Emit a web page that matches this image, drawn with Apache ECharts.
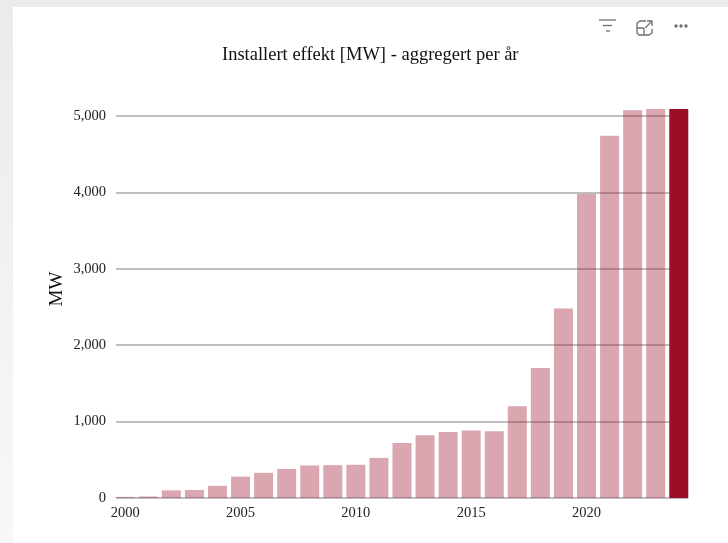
<!DOCTYPE html>
<html>
<head>
<meta charset="utf-8">
<title>Installert effekt</title>
<script src="https://cdn.jsdelivr.net/npm/echarts@6/dist/echarts.min.js"></script>
<style>
  html, body { margin: 0; padding: 0; height: 100%; background: linear-gradient(#ebebeb, #f8f8f8); }
  #card { position: absolute; left: 13px; top: 7px; width: 715px; height: 536px; background: #fff; }
  #chart { position: absolute; left: 0; top: 0; width: 728px; height: 543px; }
</style>
</head>
<body>
<div id="card"></div>
<div id="chart"></div>
<script>
const years = [2000, 2001, 2002, 2003, 2004, 2005, 2006, 2007, 2008, 2009, 2010, 2011, 2012,
  2013, 2014, 2015, 2016, 2017, 2018, 2019, 2020, 2021, 2022, 2023, 2024]
const effekt = [15, 20, 100, 105, 160, 280, 330, 380, 425, 430, 435, 525, 720,
  820, 865, 885, 875, 1200, 1700, 2480, 3980, 4740, 5075, 5090, 5090]
const yearTicks = [2000, 2005, 2010, 2015, 2020]
const titleText = 'Installert effekt [MW] - aggregert per år'
const yAxisName = 'MW'
const highlightYear = 2024

const serif = '"Liberation Serif", serif'
const chart = echarts.init(document.getElementById('chart'), null, { renderer: 'canvas' })

const iconStroke = { stroke: '#6f6f6f', lineWidth: 1.3, fill: 'none' }
function line(x1, y1, x2, y2) {
  return { type: 'line', shape: { x1, y1, x2, y2 }, style: iconStroke, silent: true }
}
function dot(cx) {
  return { type: 'circle', shape: { cx, cy: 26, r: 1.7 }, style: { fill: '#6f6f6f' }, silent: true }
}

chart.setOption({
  backgroundColor: 'transparent',
  animation: false,
  title: {
    text: titleText,
    left: 217,
    top: 41,
    textStyle: { fontFamily: serif, fontSize: 18.5, fontWeight: 'normal', color: '#111' }
  },
  grid: { left: 116, right: 40, top: 116, bottom: 45 },
  xAxis: {
    type: 'value',
    min: 1999.6,
    max: 2024.4,
    axisLine: { show: false },
    axisTick: { show: false },
    splitLine: { show: false },
    axisLabel: {
      customValues: yearTicks,
      formatter: v => String(v),
      color: '#222',
      fontFamily: serif,
      fontSize: 14.5,
      margin: 8
    }
  },
  yAxis: {
    type: 'value',
    min: 0,
    max: 5000,
    interval: 1000,
    name: yAxisName,
    nameLocation: 'middle',
    nameRotate: 90,
    nameGap: 49,
    nameMoveOverlap: false,
    nameTextStyle: { fontFamily: serif, fontSize: 19, color: '#111', padding: [0, 0, 0, 36] },
    axisLine: { show: false },
    axisTick: { show: false },
    axisLabel: {
      formatter: v => v.toLocaleString('en-US'),
      color: '#222',
      fontFamily: serif,
      fontSize: 14.5,
      margin: 10
    },
    splitLine: { lineStyle: { color: '#aaaaaa', width: 1.5 } }
  },
  series: [{
    type: 'bar',
    barWidth: 19,
    clip: false,
    data: years.map((y, i) => ({
      value: [y, effekt[i]],
      itemStyle: y === highlightYear
        ? { color: '#9b0e27' }
        : { color: 'rgba(155,14,39,0.37)' }
    }))
  }],
  graphic: [
    // filter, expand and more icons from the page toolbar
    line(599, 20, 616, 20),
    line(603, 25.5, 612, 25.5),
    line(606, 31, 610, 31),
    { type: 'polyline', shape: { points: [[646, 21], [640, 21], [637, 23], [637, 33], [639, 35], [649, 35], [652, 33], [652, 29]] }, style: iconStroke, silent: true },
    { type: 'polyline', shape: { points: [[637, 28], [643, 28], [644, 29], [644, 35]] }, style: iconStroke, silent: true },
    line(645, 28, 652, 21),
    { type: 'polyline', shape: { points: [[647, 21], [652, 21], [652, 26]] }, style: iconStroke, silent: true },
    dot(676),
    dot(681),
    dot(686)
  ]
})
</script>
</body>
</html>
